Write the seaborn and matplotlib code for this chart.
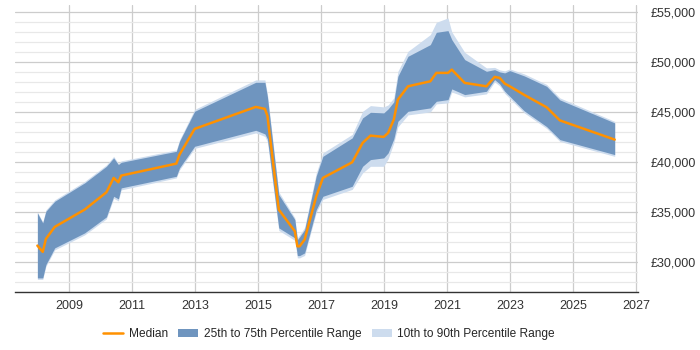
import numpy as np
import pandas as pd
import matplotlib
matplotlib.use('Agg')
import matplotlib.pyplot as plt
import seaborn as sns
from matplotlib.ticker import FuncFormatter, MultipleLocator

# decimal year of each data point
dates = [2008.00, 2008.17, 2008.27, 2008.55, 2009.50, 2010.19, 2010.42, 2010.57, 2010.66,
         2012.41, 2012.51, 2012.99, 2014.93, 2015.22, 2015.30, 2015.66, 2016.17, 2016.25,
         2016.32, 2016.48, 2016.85, 2017.06, 2017.99, 2018.32, 2018.57, 2018.99, 2019.13,
         2019.31, 2019.44, 2019.76, 2020.47, 2020.66, 2021.03, 2021.15, 2021.56, 2022.25,
         2022.51, 2022.67, 2022.83, 2022.99, 2023.45, 2024.16, 2024.58, 2026.32]
median = [31630, 31000, 32300, 33500, 35230, 36960, 38400, 37960, 38630,
          39830, 40730, 43300, 45500, 45300, 44600, 35230, 33060, 31560,
          31560, 32230, 36560, 38400, 39960, 41900, 42630, 42500, 42900,
          44230, 46230, 47560, 48060, 48900, 48900, 49230, 47900, 47560,
          48500, 48400, 47830, 47560, 46700, 45460, 44150, 42230]
p75 = [34900, 33900, 35060, 36060, 37900, 39560, 40400, 39730, 39960,
       41060, 42060, 45060, 47960, 47960, 46500, 36730, 34230, 32230,
       32500, 33230, 38600, 40560, 42400, 44400, 44960, 44900, 45300,
       46000, 48560, 50560, 51730, 52960, 53130, 52230, 50230, 49060,
       49230, 49000, 48900, 49130, 48600, 47560, 46200, 43900]
p25 = [28400, 28400, 29730, 31400, 32900, 34500, 36560, 36300, 37400,
       38560, 39400, 41560, 43160, 42800, 42300, 33400, 32400, 30630,
       30630, 30900, 35230, 36560, 37560, 39560, 40230, 40400, 40900,
       42300, 44060, 45060, 45400, 46060, 46230, 47300, 46730, 47060,
       48230, 47800, 47060, 46560, 45100, 43530, 42230, 40730]
p90 = [35000, 34000, 35200, 36200, 38050, 39700, 40550, 39850, 40100,
       41200, 42200, 45250, 48200, 48200, 46800, 37000, 34400, 32400,
       32700, 33450, 38900, 40900, 42750, 45060, 45630, 45500, 45700,
       46400, 49060, 51060, 52730, 53960, 54400, 53000, 50960, 49400,
       49450, 49200, 49100, 49300, 48800, 47750, 46400, 44050]
p10 = [28250, 28250, 29550, 31200, 32700, 34300, 36350, 36100, 37200,
       38400, 39200, 41350, 42900, 42550, 42000, 33150, 32150, 30400,
       30400, 30650, 34950, 36250, 37250, 38900, 39560, 39560, 40300,
       41900, 43500, 44700, 45000, 45800, 45900, 47000, 46500, 46800,
       48000, 47600, 46850, 46350, 44900, 43350, 42050, 40550]

df = pd.DataFrame({'date': dates, 'median': median, 'p25': p25, 'p75': p75,
                   'p10': p10, 'p90': p90})

sns.set_theme(style='white')
plt.rcParams['font.family'] = ['Liberation Sans', 'DejaVu Sans']

fig = plt.figure(figsize=(7, 3.5), dpi=100)
ax = fig.add_axes([0.021, 0.166, 0.890, 0.820])

ax.fill_between(df['date'], df['p10'], df['p90'], color='#cddcee', lw=0,
                label='10th to 90th Percentile Range', zorder=2)
ax.fill_between(df['date'], df['p25'], df['p75'], color='#6f95bf', lw=0,
                label='25th to 75th Percentile Range', zorder=3)
sns.lineplot(data=df, x='date', y='median', color='#ff9100', lw=1.8, ax=ax,
             label='Median', zorder=4)

ax.set_xlim(2007.28, 2027.05)
ax.set_ylim(27000, 55700)
ax.set_xticks(range(2009, 2028, 2))
ax.xaxis.set_major_formatter(FuncFormatter(lambda v, p: '%d' % v))
ax.yaxis.set_major_locator(MultipleLocator(5000))
ax.yaxis.set_minor_locator(MultipleLocator(1000))
ax.yaxis.set_major_formatter(FuncFormatter(lambda v, p: '£{:,.0f}'.format(v)))
ax.yaxis.tick_right()
ax.tick_params(axis='y', which='both', length=0, labelsize=9, colors='#333333', pad=9)
ax.tick_params(axis='x', length=0, labelsize=9, colors='#333333', pad=6)
ax.grid(axis='y', which='major', color='#cccccc', lw=0.9)
ax.grid(axis='y', which='minor', color='#e8e8e8', lw=0.9)
ax.grid(axis='x', which='major', color='#cccccc', lw=0.9)
ax.set_axisbelow(True)
for s in ['left', 'right', 'top']:
    ax.spines[s].set_visible(False)
ax.spines['bottom'].set_color('#333333')
ax.spines['bottom'].set_linewidth(1.0)
ax.set_xlabel('')
ax.set_ylabel('')

handles, labels = ax.get_legend_handles_labels()
order = [labels.index('Median'), labels.index('25th to 75th Percentile Range'),
         labels.index('10th to 90th Percentile Range')]
ax.legend([handles[i] for i in order], [labels[i] for i in order],
          loc='center', bbox_to_anchor=(0.47, 0.045), bbox_transform=fig.transFigure,
          ncol=3, frameon=False, fontsize=8.6, handlelength=1.7, columnspacing=0.85,
          handletextpad=0.45)

fig.savefig('out.png', dpi=100)
